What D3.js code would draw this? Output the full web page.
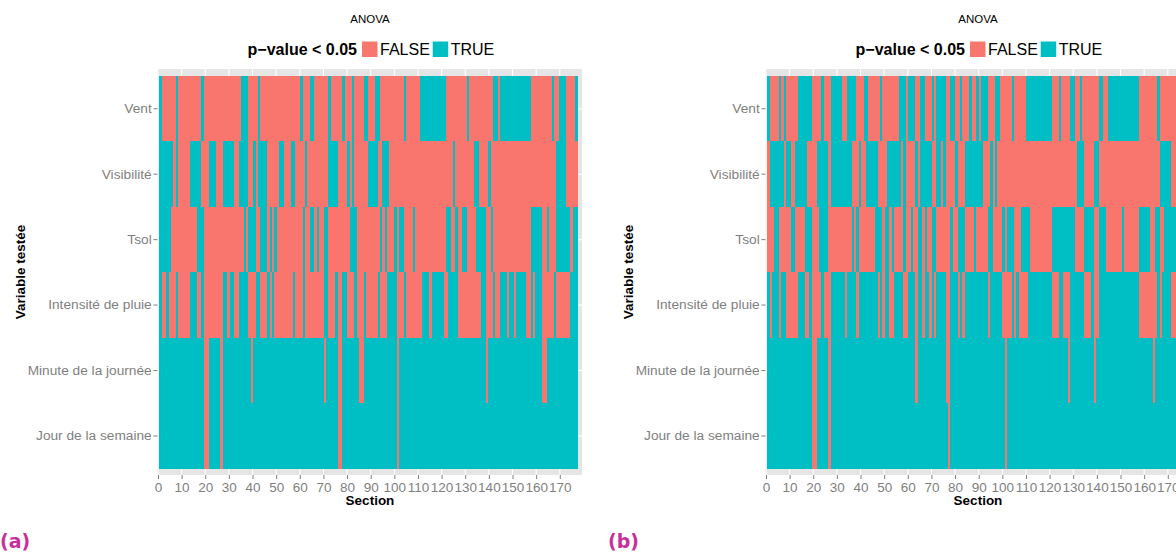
<!DOCTYPE html>
<html><head><meta charset="utf-8">
<script src="https://cdn.jsdelivr.net/npm/d3@7"></script>
<style>html,body{margin:0;padding:0;background:#fff}svg{display:block}</style>
</head><body>
<svg id="chart" width="1176" height="552"></svg>
<script>
// ---------------- data ----------------
const variables = ["Vent", "Visibilité", "Tsol", "Intensité de pluie", "Minute de la journée", "Jour de la semaine"];
const sections = d3.range(1, 179);               // section numbers 1..178
const xTicks = [0,10,20,30,40,50,60,70,80,90,100,110,120,130,140,150,160,170];
const legendLevels = ["FALSE", "TRUE"];
// Sections where p-value < 0.05 is FALSE (ranges, inclusive); every other section is TRUE
// Panel (a)
const aVent = [[2,7],[9,18],[20,35],[39,42],[44,60],[62,64],[67,72],[74,78],[80,82],[84,87],[90,92],[95,104],[106,111],[123,131],[133,142],[145,145],[159,167],[169,170],[174,177]];
const aVisibilite = [[7,7],[9,13],[19,21],[25,27],[33,34],[39,40],[42,42],[47,51],[54,56],[59,62],[64,72],[77,80],[82,82],[84,89],[94,95],[99,125],[127,134],[137,140],[142,169],[174,178]];
const aTsol = [[6,16],[20,36],[38,38],[42,43],[47,47],[49,49],[51,61],[63,64],[67,67],[69,70],[73,81],[85,94],[96,96],[98,100],[102,102],[105,108],[110,122],[125,126],[128,129],[132,135],[140,141],[143,158],[164,165],[167,169],[176,176]];
const aPluie = [[2,3],[5,7],[9,13],[17,18],[20,27],[30,30],[33,34],[39,41],[44,46],[48,48],[50,57],[59,61],[63,70],[73,75],[77,78],[81,83],[85,87],[89,93],[95,97],[102,104],[106,112],[116,116],[122,123],[128,137],[140,142],[144,145],[149,149],[152,152],[157,158],[160,160],[164,168],[170,175]];
const aMinute = [[20,21],[27,27],[40,40],[71,71],[77,78],[86,87],[102,102],[140,140],[164,165]];
const aJour = [[20,21],[27,27],[77,78],[102,102]];
// Panel (b)
const bVent = [[2,5],[7,7],[9,13],[20,23],[25,27],[33,34],[39,41],[44,48],[50,56],[60,60],[64,65],[68,70],[72,72],[77,78],[81,82],[84,86],[88,89],[91,91],[95,97],[100,104],[106,110],[122,124],[126,129],[132,133],[135,141],[144,145],[159,166],[168,178]];
const bVisibilite = [[1,1],[8,8],[11,12],[18,21],[27,27],[37,39],[41,42],[48,51],[58,58],[60,63],[65,65],[71,72],[75,75],[77,80],[82,84],[93,95],[97,97],[99,132],[136,139],[142,167],[173,178]];
const bTsol = [[1,3],[6,10],[13,16],[20,22],[27,36],[38,38],[40,46],[50,50],[53,53],[55,58],[60,61],[63,64],[67,67],[69,70],[73,78],[80,81],[85,88],[90,94],[97,100],[102,102],[106,108],[113,121],[132,135],[140,141],[145,151],[153,158],[164,165],[168,169],[175,178]];
const bPluie = [[2,2],[6,6],[9,13],[17,18],[20,23],[25,27],[34,34],[39,39],[48,48],[50,50],[53,54],[59,60],[64,64],[67,67],[70,70],[72,72],[77,78],[82,82],[84,84],[95,95],[101,104],[106,106],[108,111],[122,124],[127,129],[136,138],[140,141],[159,166],[168,168],[173,178]];
const bMinute = [[20,21],[27,27],[64,64],[77,78],[102,102],[129,129],[140,140],[165,165]];
const bJour = [[20,21],[27,27],[78,78],[102,102]];

// ---------------- drawing ----------------
const svg = d3.select("#chart");
const FONT = "'Liberation Sans', Arial, Helvetica, sans-serif";
const color = d3.scaleOrdinal().domain(legendLevels).range(["#F8766D", "#00BFC4"]);
const GREY = "#7F7F7F";

function drawPanel(dx, rows, tag) {
  const g = svg.append("g").attr("transform", `translate(${dx},0)`);
  const x = d3.scaleLinear().domain([-0.2, 179.4]).range([157.5, 582]);
  const xb = d3.scaleBand().domain(sections).range([x(0.5), x(177.5)]);
  const y = d3.scaleBand().domain(variables).range([76, 468.7]);

  // panel background
  g.append("rect").attr("x", 157.5).attr("y", 69).attr("width", 424.5).attr("height", 406).attr("fill", "#E5E5E5");
  // grid
  g.append("g").selectAll("line").data(xTicks).join("line")
    .attr("x1", d => x(d)).attr("x2", d => x(d)).attr("y1", 69).attr("y2", 475)
    .attr("stroke", "#fff").attr("stroke-width", 1.1);
  g.append("g").selectAll("line").data(variables).join("line")
    .attr("x1", 157.5).attr("x2", 582).attr("y1", d => y(d) + y.bandwidth() / 2).attr("y2", d => y(d) + y.bandwidth() / 2)
    .attr("stroke", "#fff").attr("stroke-width", 1.1);

  // tiles (merged into runs of equal value)
  const cells = g.append("g").attr("shape-rendering", "crispEdges");
  variables.forEach((v, vi) => {
    const falseRuns = rows[vi];
    const vals = sections.map(s => falseRuns.some(([a, b]) => s >= a && s <= b) ? "FALSE" : "TRUE");
    const runs = [];
    vals.forEach((val, i) => {
      const last = runs[runs.length - 1];
      if (last && last.val === val) last.end = sections[i];
      else runs.push({ val, start: sections[i], end: sections[i] });
    });
    cells.append("g").selectAll("rect").data(runs).join("rect")
      .attr("x", r => xb(r.start))
      .attr("width", r => xb(r.end) + xb.bandwidth() - xb(r.start))
      .attr("y", y(v)).attr("height", y.bandwidth() + 0.5)
      .attr("fill", r => color(r.val));
  });

  // x axis
  const xa = g.append("g").attr("transform", "translate(0,475)")
    .call(d3.axisBottom(x).tickValues(xTicks).tickSize(4).tickPadding(3.3).tickFormat(d3.format("d")));
  xa.select(".domain").remove();
  xa.selectAll("line").attr("stroke", GREY);
  xa.selectAll("text").attr("fill", GREY).style("font-family", FONT).style("font-size", "13.5px");

  // y axis
  const ya = g.append("g").attr("transform", "translate(157.5,0)")
    .call(d3.axisLeft(y).tickSize(4).tickPadding(1.8));
  ya.select(".domain").remove();
  ya.selectAll("line").attr("stroke", GREY);
  ya.selectAll("text").attr("fill", GREY).style("font-family", FONT).style("font-size", "13.7px");

  // axis titles
  g.append("text").attr("x", 370).attr("y", 505).attr("text-anchor", "middle")
    .style("font-family", FONT).style("font-size", "13.5px").style("font-weight", "bold").text("Section");
  g.append("text").attr("transform", "translate(25,272) rotate(-90)").attr("text-anchor", "middle")
    .style("font-family", FONT).style("font-size", "13.5px").style("font-weight", "bold").text("Variable testée");

  // title
  g.append("text").attr("x", 370).attr("y", 23).attr("text-anchor", "middle")
    .style("font-family", FONT).style("font-size", "11.5px").text("ANOVA");

  // legend
  const lg = g.append("g");
  lg.append("text").attr("x", 357).attr("y", 55).attr("text-anchor", "end")
    .style("font-family", FONT).style("font-size", "16px").style("font-weight", "bold").text("p\u2212value < 0.05");
  const keyX = [362, 432.7], labX = [380, 450.7];
  legendLevels.forEach((lev, i) => {
    lg.append("rect").attr("x", keyX[i]).attr("y", 41.5).attr("width", 15.5).attr("height", 15.5).attr("fill", color(lev));
    lg.append("text").attr("x", labX[i]).attr("y", 55)
      .style("font-family", FONT).style("font-size", "16px").text(lev);
  });

  // panel tag
  svg.append("text").attr("x", dx + 0).attr("y", 548)
    .style("font-family", "'DejaVu Sans', sans-serif").style("font-size", "19px").style("font-weight", "bold")
    .attr("fill", "#C7309A").text(tag);
}

drawPanel(0, [aVent, aVisibilite, aTsol, aPluie, aMinute, aJour], "(a)");
drawPanel(608, [bVent, bVisibilite, bTsol, bPluie, bMinute, bJour], "(b)");
</script>
</body></html>
